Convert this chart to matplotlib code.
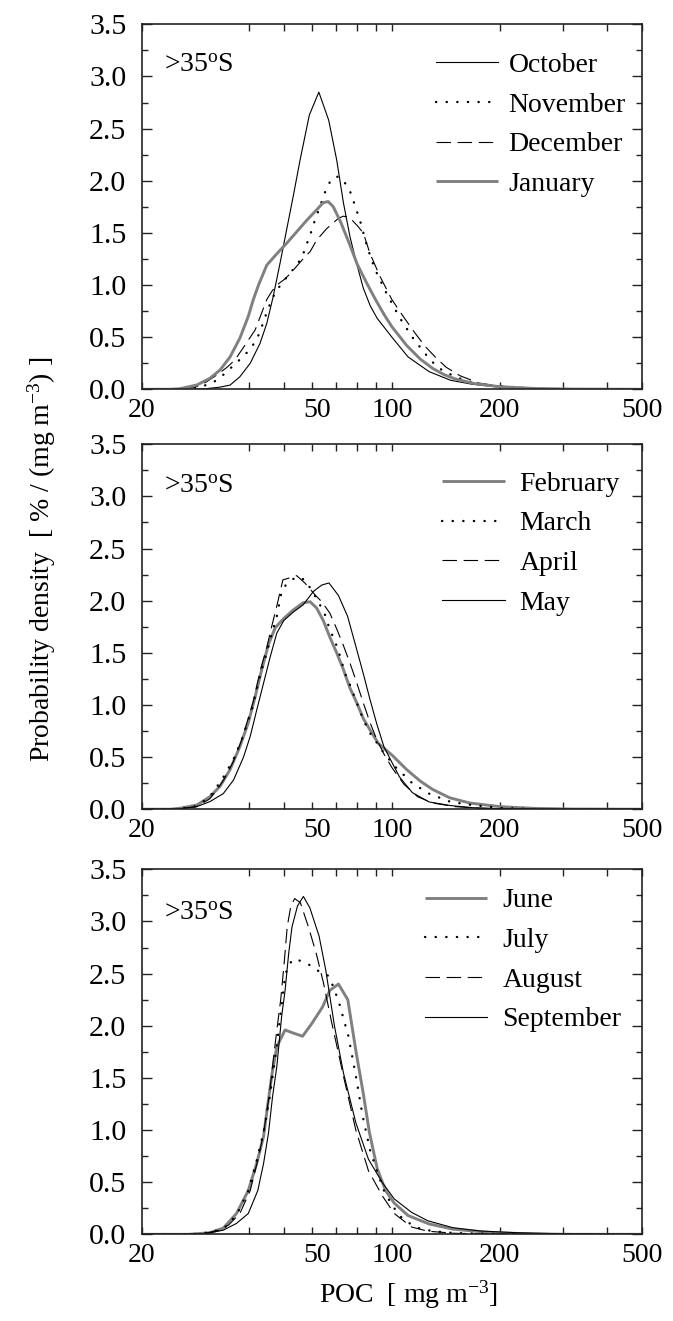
import matplotlib
matplotlib.use("Agg")
import matplotlib.pyplot as plt
from matplotlib.ticker import FixedLocator, FixedFormatter, NullFormatter, MultipleLocator
from matplotlib.transforms import ScaledTranslation

plt.rcParams['font.family'] = ['Liberation Serif', 'DejaVu Serif']
plt.rcParams['mathtext.fontset'] = 'custom'
plt.rcParams['mathtext.rm'] = 'Liberation Serif'
plt.rcParams['mathtext.it'] = 'Liberation Serif:italic'
plt.rcParams['mathtext.bf'] = 'Liberation Serif:bold'

# ---------------- data: probability density of POC (% per mg m^-3) ----------------
# October - January
oct_x = [20, 27, 30, 33, 35.3, 37.6, 40.2, 42.8, 44.7, 46.6, 48.7, 50.8, 53.0, 55.4, 58.8,
         62.5, 66.6, 70.1, 73.2, 76.4, 79.8, 83.2, 87, 91, 100, 111, 127, 146, 168, 200, 253, 320, 500]
oct_y = [0, 0, 0.005, 0.02, 0.04, 0.12, 0.25, 0.44, 0.63, 0.89, 1.21, 1.53, 1.85, 2.20, 2.63,
         2.85, 2.58, 2.20, 1.79, 1.46, 1.20, 0.97, 0.80, 0.68, 0.50, 0.31, 0.17, 0.086, 0.048, 0.02, 0.006, 0, 0]

nov_x = [20, 26, 29.7, 31.4, 33.1, 35.1, 37.2, 39.3, 41.0, 42.4, 43.3, 44.2, 45.2, 46.2, 47.4, 49.4,
         51.5, 54.2, 56.1, 57.4, 58.6, 59.8, 60.9, 62.0, 64.6, 66.0, 68.5, 71, 73.2, 75.9, 77.6, 79.1,
         80.8, 82.2, 85.4, 89.7, 96.6, 105, 114, 124, 134, 150, 172, 200, 253, 320, 500]
nov_y = [0, 0, 0.032, 0.058, 0.111, 0.19, 0.27, 0.35, 0.43, 0.52, 0.60, 0.69, 0.78, 0.86, 0.94, 1.02,
         1.10, 1.19, 1.27, 1.36, 1.45, 1.53, 1.62, 1.69, 1.86, 1.95, 2.03, 2.04, 2.00, 1.92, 1.84, 1.74,
         1.66, 1.57, 1.36, 1.15, 0.92, 0.69, 0.50, 0.34, 0.21, 0.12, 0.054, 0.03, 0.006, 0, 0]

dec_x = [20, 25, 28.5, 30.4, 32.4, 34.6, 36.4, 38.9, 41.5, 44.7, 46.2, 47.7, 49.9, 51.7, 54.2, 57.1,
         59.1, 61.6, 65.7, 70.9, 73.2, 76, 78, 80, 83.2, 86.9, 92.7, 100, 108, 116, 124, 133, 142,
         155, 175, 200, 250, 320, 500]
dec_y = [0, 0, 0.025, 0.073, 0.137, 0.21, 0.28, 0.425, 0.57, 0.86, 0.94, 1.00, 1.05, 1.10, 1.18, 1.27,
         1.32, 1.43, 1.54, 1.64, 1.66, 1.65, 1.61, 1.57, 1.50, 1.30, 1.08, 0.86, 0.69, 0.54, 0.41, 0.30,
         0.21, 0.13, 0.06, 0.03, 0.01, 0, 0]

jan_x = [20, 24, 25.6, 28.5, 31.0, 33.1, 35.3, 37.6, 39.7, 41.0, 42.4, 44.7, 47.7, 50.8, 54.2, 57.8,
         61.6, 64.3, 66.4, 68.6, 72, 76, 80, 85, 90, 95, 100, 110, 120, 130, 140, 150, 170, 200, 250,
         320, 500]
jan_y = [0, 0, 0.006, 0.041, 0.105, 0.185, 0.31, 0.49, 0.70, 0.86, 1.00, 1.19, 1.30, 1.40, 1.51, 1.62,
         1.72, 1.79, 1.80, 1.75, 1.60, 1.40, 1.20, 1.02, 0.86, 0.72, 0.60, 0.42, 0.29, 0.20, 0.14, 0.10,
         0.055, 0.025, 0.008, 0.002, 0]

# February - May
feb_x = [20, 24, 25.6, 28.5, 31.0, 33.1, 35.3, 37.6, 39.7, 41.5, 43.3, 45.2, 47.2, 49.9, 53.0, 56.5,
         59.1, 61.6, 64.3, 67.1, 70.1, 73.2, 76.4, 79.8, 83.2, 86.9, 91.7, 100, 110, 120, 130, 145, 165,
         200, 250, 320, 500]
feb_y = [0, 0, 0.01, 0.04, 0.12, 0.22, 0.38, 0.60, 0.83, 1.08, 1.34, 1.58, 1.74, 1.83, 1.91, 1.98,
         1.99, 1.93, 1.81, 1.65, 1.50, 1.34, 1.16, 1.02, 0.87, 0.76, 0.63, 0.52, 0.38, 0.27, 0.19, 0.11,
         0.06, 0.025, 0.008, 0.002, 0]

mar_x = [20, 25, 28.5, 31.0, 32.5, 34.0, 36.1, 38.0, 39.5, 40.9, 41.9, 43.1, 44.7, 45.9, 47.7, 49.2,
         51.0, 54.2, 57.1, 59.7, 61.6, 64.8, 67.1, 69.4, 71.6, 74.0, 76.4, 79.8, 83.2, 85.9, 88.7, 91.7,
         94, 102, 114, 127, 146, 168, 200, 260, 500]
mar_y = [0, 0, 0.03, 0.12, 0.22, 0.32, 0.48, 0.66, 0.83, 0.99, 1.15, 1.32, 1.50, 1.65, 1.85, 2.09,
         2.17, 2.23, 2.20, 2.10, 2.02, 1.88, 1.72, 1.61, 1.47, 1.30, 1.19, 1.02, 0.86, 0.76, 0.68, 0.62,
         0.56, 0.41, 0.25, 0.15, 0.07, 0.04, 0.013, 0, 0]

apr_x = [20, 25, 28.5, 31.0, 32.5, 34.0, 36.1, 38.0, 39.5, 40.9, 41.9, 43.1, 44.7, 45.9, 47.7, 49.6,
         52.0, 54.2, 57.1, 61.2, 63.7, 67.1, 70.1, 73.2, 76.4, 79.8, 83.2, 86.9, 90.7, 95, 100, 108,
         118, 130, 150, 175, 200, 260, 500]
apr_y = [0, 0, 0.025, 0.10, 0.19, 0.29, 0.46, 0.66, 0.85, 1.02, 1.18, 1.36, 1.55, 1.72, 1.95, 2.20,
         2.22, 2.24, 2.17, 2.05, 1.99, 1.88, 1.73, 1.57, 1.40, 1.21, 1.02, 0.83, 0.67, 0.53, 0.40, 0.24,
         0.12, 0.06, 0.025, 0.01, 0.005, 0, 0]

may_x = [20, 25, 28.5, 31.0, 33.8, 36.1, 38.5, 40.2, 41.9, 43.8, 45.7, 47.7, 49.9, 53.0, 56.5, 60.4,
         63.7, 66.7, 70.9, 75.2, 78.9, 83.2, 86.9, 90.7, 95, 100, 105, 114, 127, 146, 168, 200, 260, 500]
may_y = [0, 0, 0.025, 0.073, 0.15, 0.28, 0.50, 0.70, 0.95, 1.21, 1.46, 1.69, 1.81, 1.89, 1.96, 2.09,
         2.15, 2.17, 2.05, 1.85, 1.59, 1.30, 1.05, 0.82, 0.60, 0.45, 0.31, 0.16, 0.07, 0.035, 0.015,
         0.005, 0, 0]

# June - September
jun_x = [20, 27, 31.0, 33.8, 36.8, 39.7, 41.9, 43.8, 44.9, 46.3, 47.7, 50.3, 53.0, 56.3, 59.7, 64.0,
         67.1, 70.9, 75.3, 79.5, 83.2, 86.5, 91, 96, 101.5, 111, 127, 148, 190, 250, 320, 500]
jun_y = [0, 0, 0.015, 0.06, 0.20, 0.42, 0.68, 0.94, 1.22, 1.55, 1.80, 1.96, 1.93, 1.90, 2.02, 2.18,
         2.34, 2.40, 2.25, 1.74, 1.35, 0.98, 0.63, 0.42, 0.30, 0.18, 0.10, 0.05, 0.016, 0.004, 0, 0]

jul_x = [20, 26, 29, 32, 34.6, 37.0, 39.7, 42.0, 43.8, 45.5, 46.8, 48.0, 49.0, 50.0, 51.0, 53.0,
         56.0, 59.1, 62.0, 64.5, 66.4, 68.5, 71.2, 75.6, 79.3, 82.9, 87, 91, 95, 100, 107, 117, 130,
         150, 200, 260, 500]
jul_y = [0, 0, 0.005, 0.03, 0.08, 0.20, 0.42, 0.72, 0.98, 1.30, 1.60, 1.89, 2.15, 2.41, 2.56, 2.64,
         2.62, 2.58, 2.53, 2.50, 2.48, 2.38, 2.22, 1.90, 1.52, 1.13, 0.80, 0.60, 0.42, 0.28, 0.15, 0.065,
         0.03, 0.012, 0.003, 0, 0]

aug_x = [20, 27, 30, 33, 35, 37.6, 40.2, 42.4, 43.8, 45.5, 46.6, 47.7, 48.9, 50.0, 51.0, 52.2, 53.5,
         55.5, 58.3, 61.4, 64.4, 67.9, 73.2, 79.3, 86, 94, 101.5, 113.6, 126, 150, 200, 260, 500]
aug_y = [0, 0, 0.01, 0.04, 0.09, 0.20, 0.42, 0.74, 0.97, 1.35, 1.67, 1.96, 2.25, 2.60, 2.95, 3.15, 3.22,
         3.18, 2.96, 2.70, 2.41, 2.03, 1.52, 1.00, 0.61, 0.37, 0.20, 0.07, 0.03, 0.01, 0.002, 0, 0]

sep_x = [20, 28, 30, 33.8, 36.8, 39.7, 42.2, 43.8, 45.2, 46.4, 47.7, 49.2, 50.3, 51.5, 52.6, 54.5,
         56.6, 59.0, 62.6, 65.3, 69.1, 73.2, 79.3, 86.0, 93.9, 101.5, 113.6, 126, 148, 177, 222, 290,
         400, 500]
sep_y = [0, 0, 0.005, 0.04, 0.105, 0.20, 0.42, 0.68, 0.97, 1.32, 1.61, 2.09, 2.34, 2.70, 2.95, 3.15,
         3.24, 3.13, 2.86, 2.54, 2.00, 1.55, 1.07, 0.72, 0.50, 0.34, 0.21, 0.13, 0.064, 0.032, 0.016,
         0.006, 0, 0]

x_tick_values = [20, 50, 100, 200, 500]
x_tick_labels = ['20', '50', '100', '200', '500']
x_minor_values = [40, 60, 70, 80, 90, 300, 400]
region_label = r'>35$^{\mathrm{o}}$S'

# ---------------- line styles ----------------
GRAY = '#808080'
STYLE = {
    'solid': dict(color='black', lw=0.8, ls='-'),
    'dotted': dict(color='black', lw=1.7, ls=(0, (0.1, 4.4)), dash_capstyle='round'),
    'dashed': dict(color='black', lw=0.8, ls=(0, (13, 6))),
    'gray': dict(color=GRAY, lw=2.1, ls='-', solid_capstyle='butt'),
}

panels = [
    dict(series=[('October', oct_x, oct_y, 'solid'), ('November', nov_x, nov_y, 'dotted'),
                 ('December', dec_x, dec_y, 'dashed'), ('January', jan_x, jan_y, 'gray')],
         bottom=0.7053, leg=(0.588, 0.922), pad=0.36, tag_y=0.870),
    dict(series=[('February', feb_x, feb_y, 'gray'), ('March', mar_x, mar_y, 'dotted'),
                 ('April', apr_x, apr_y, 'dashed'), ('May', may_x, may_y, 'solid')],
         bottom=0.3874, leg=(0.601, 0.926), pad=0.52, tag_y=0.866),
    dict(series=[('June', jun_x, jun_y, 'gray'), ('July', jul_x, jul_y, 'dotted'),
                 ('August', aug_x, aug_y, 'dashed'), ('September', sep_x, sep_y, 'solid')],
         bottom=0.0656, leg=(0.566, 0.949), pad=0.54, tag_y=0.861),
]

fig = plt.figure(figsize=(6.73, 13.21), dpi=100)
LEFT, WIDTH, HEIGHT = 0.2106, 0.7434, 0.2763
FS = 20
XLAB_FS = 20
YLAB_FS = 21.5
XPAD = 6

for p in panels:
    ax = fig.add_axes([LEFT, p['bottom'], WIDTH, HEIGHT])
    handles = []
    for name, xs, ys, st in p['series']:
        line, = ax.plot(xs, ys, label=name, **STYLE[st])
        handles.append(line)

    ax.set_xscale('log')
    ax.set_xlim(20, 500)
    ax.set_ylim(0, 3.5)

    # "50" is written separately (set slightly to the right of its tick)
    shown = [lab if v != 50 else '' for v, lab in zip(x_tick_values, x_tick_labels)]
    ax.xaxis.set_major_locator(FixedLocator(x_tick_values))
    ax.xaxis.set_major_formatter(FixedFormatter(shown))
    ax.xaxis.set_minor_locator(FixedLocator(x_minor_values))
    ax.xaxis.set_minor_formatter(NullFormatter())
    ax.yaxis.set_major_locator(MultipleLocator(0.5))
    ax.yaxis.set_minor_locator(MultipleLocator(0.25))
    ax.yaxis.set_major_formatter(plt.FormatStrFormatter('%.1f'))

    ax.tick_params(axis='x', which='both', direction='in', top=True, length=5, width=1.0,
                   labelsize=XLAB_FS, pad=XPAD, color='#222222')
    ax.tick_params(axis='y', which='major', direction='in', right=True, length=7.5, width=1.0,
                   labelsize=YLAB_FS, pad=11, color='#222222')
    ax.tick_params(axis='y', which='minor', direction='in', right=True, length=4.5, width=1.0,
                   color='#222222')
    for sp in ax.spines.values():
        sp.set_linewidth(1.2)
        sp.set_color('#222222')

    shift = ScaledTranslation(0.33, -XPAD / 72, fig.dpi_scale_trans)
    ax.text(50, 0, '50', transform=ax.get_xaxis_transform() + shift, fontsize=XLAB_FS,
            ha='center', va='top')

    ax.text(0.045, p['tag_y'], region_label, transform=ax.transAxes, fontsize=FS,
            ha='left', va='baseline')

    ax.legend(handles=handles, loc='upper left', bbox_to_anchor=p['leg'], frameon=False,
              fontsize=FS, borderpad=0, borderaxespad=0, handlelength=2.25,
              handletextpad=p['pad'], labelspacing=0.51)

fig.text(42 / 673, 1 - 559 / 1321, r'Probability density  [ % / (mg m$^{-3}$) ]',
         rotation=90, ha='center', va='center', fontsize=FS)
fig.text(408 / 673, 0.0136, r'POC  [ mg m$^{-3}$]', ha='center', va='baseline', fontsize=FS)

fig.savefig('out.png', dpi=100)
